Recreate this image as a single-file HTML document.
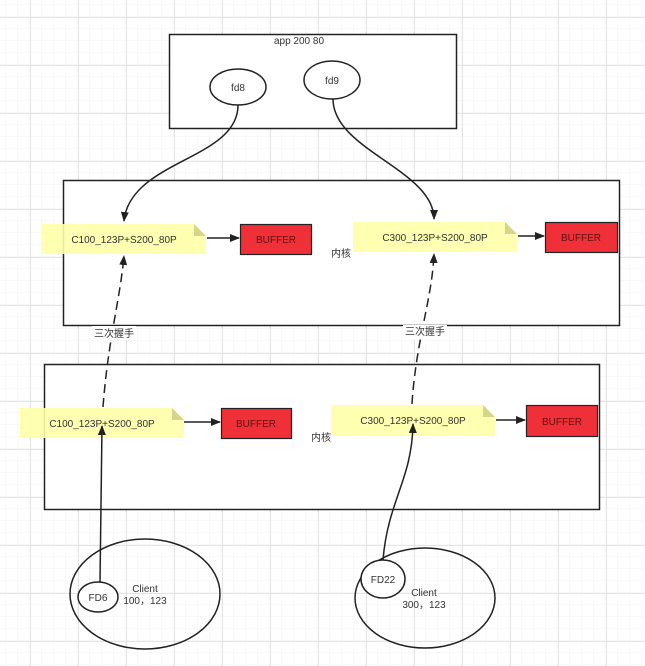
<!DOCTYPE html>
<html><head><meta charset="utf-8"><style>
html,body{margin:0;padding:0;background:#fff}
svg{display:block}
text{font-family:"Liberation Sans","Noto Sans CJK SC",sans-serif;font-size:10px;fill:#333}
</style></head><body>
<svg width="645" height="666" viewBox="0 0 645 666" xmlns="http://www.w3.org/2000/svg">
<defs>
<pattern id="minor" width="12" height="12" patternUnits="userSpaceOnUse" x="6" y="5">
<path d="M12 0V12M0 12H12" stroke="#f3f3f3" stroke-width="1" fill="none"/>
</pattern>
<pattern id="major" width="48" height="48" patternUnits="userSpaceOnUse" x="30" y="17">
<path d="M0.5 0V48M0 0.5H48" stroke="#e4e4e4" stroke-width="1" fill="none"/>
</pattern>
<marker id="ar" markerWidth="10" markerHeight="8" refX="9" refY="4" orient="auto" markerUnits="userSpaceOnUse">
<path d="M0 0L10 4L0 8Z" fill="#222"/>
</marker>
</defs>
<rect width="645" height="666" fill="url(#minor)"/>
<rect width="645" height="666" fill="url(#major)"/>

<rect x="169.5" y="34.5" width="287" height="94" fill="#fff" stroke="#222" stroke-width="1.5"/>
<text x="299" y="44" text-anchor="middle">app 200 80</text>
<ellipse cx="238" cy="87" rx="28" ry="18" fill="#fff" stroke="#222" stroke-width="1.5"/>
<text x="238" y="91" text-anchor="middle">fd8</text>
<ellipse cx="332" cy="80" rx="28" ry="19" fill="#fff" stroke="#222" stroke-width="1.5"/>
<text x="332" y="84" text-anchor="middle">fd9</text>

<rect x="63.5" y="180.5" width="556" height="145" fill="#fff" stroke="#222" stroke-width="1.5"/>
<rect x="44.5" y="364.5" width="555" height="145" fill="#fff" stroke="#222" stroke-width="1.5"/>
<text x="341" y="257" text-anchor="middle">内核</text>
<text x="321" y="441" text-anchor="middle">内核</text>

<g>
<path d="M42 224H194L206 236V254H42Z" fill="#ffffa8" opacity="0.9"/><path d="M194 224L206 236H194Z" fill="#d6d68a"/>
<text x="124" y="243" text-anchor="middle">C100_123P+S200_80P</text>
<path d="M353 222H505L517 234V252H353Z" fill="#ffffa8" opacity="0.9"/><path d="M505 222L517 234H505Z" fill="#d6d68a"/>
<text x="435" y="241" text-anchor="middle">C300_123P+S200_80P</text>
<path d="M20 408H172L184 420V438H20Z" fill="#ffffa8" opacity="0.9"/><path d="M172 408L184 420H172Z" fill="#d6d68a"/>
<text x="102" y="427" text-anchor="middle">C100_123P+S200_80P</text>
<path d="M331 405H483L495 417V436H331Z" fill="#ffffa8" opacity="0.9"/><path d="M483 405L495 417H483Z" fill="#d6d68a"/>
<text x="413" y="424" text-anchor="middle">C300_123P+S200_80P</text>
</g>

<g stroke="#222" stroke-width="1.2" fill="#f03038">
<rect x="240.5" y="224.5" width="71" height="30"/>
<rect x="545.5" y="222.5" width="72" height="30"/>
<rect x="221.5" y="408.5" width="70" height="30"/>
<rect x="526.5" y="405.5" width="71" height="31"/>
</g>
<g text-anchor="middle">
<text x="276" y="243" style="fill:#5a1010">BUFFER</text>
<text x="581" y="241" style="fill:#5a1010">BUFFER</text>
<text x="256" y="427" style="fill:#5a1010">BUFFER</text>
<text x="562" y="425" style="fill:#5a1010">BUFFER</text>
</g>

<g stroke="#222" stroke-width="1.5" fill="none" marker-end="url(#ar)">
<path d="M207 238H239"/>
<path d="M518 236H544"/>
<path d="M184 422H220"/>
<path d="M496 420H525"/>
<path d="M238 105C238 160 130 160 124 221"/>
<path d="M333 99C333 150 434 170 434 219"/>
<path d="M100 582L102 426"/>
<path d="M383 560C388 500 412 480 413 424"/>
</g>
<g stroke="#222" stroke-width="1.5" fill="none" stroke-dasharray="9 5">
<path d="M103 407C108 340 120 300 124 256" marker-end="url(#ar)"/>
<path d="M412 404C416 340 432 300 434 254" marker-end="url(#ar)"/>
</g>
<rect x="92" y="326" width="44" height="14" fill="#fff"/>
<text x="114" y="337" text-anchor="middle">三次握手</text>
<rect x="403" y="325" width="44" height="14" fill="#fff"/>
<text x="425" y="335" text-anchor="middle">三次握手</text>

<ellipse cx="145" cy="594" rx="75" ry="55" fill="none" stroke="#222" stroke-width="1.5"/>
<ellipse cx="98" cy="597" rx="20" ry="15" fill="#fff" stroke="#222" stroke-width="1.5"/>
<text x="98" y="601" text-anchor="middle">FD6</text>
<text x="145" y="592" text-anchor="middle">Client</text>
<text x="145" y="604" text-anchor="middle">100，123</text>

<ellipse cx="425" cy="598" rx="70" ry="50" fill="none" stroke="#222" stroke-width="1.5"/>
<ellipse cx="383" cy="579" rx="22" ry="19" fill="#fff" stroke="#222" stroke-width="1.5"/>
<text x="383" y="583" text-anchor="middle">FD22</text>
<text x="424" y="596" text-anchor="middle">Client</text>
<text x="424" y="608" text-anchor="middle">300，123</text>
</svg>
</body></html>
